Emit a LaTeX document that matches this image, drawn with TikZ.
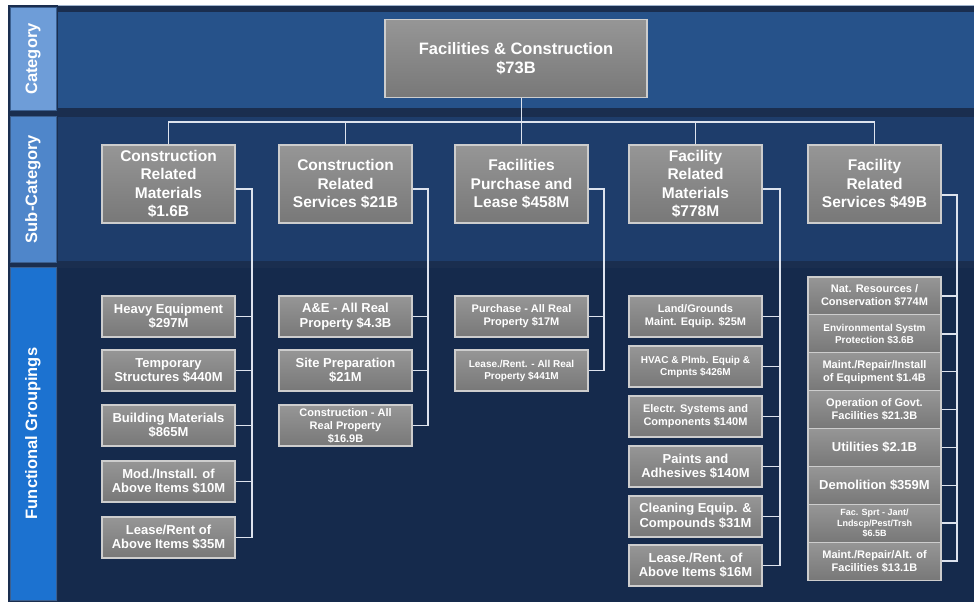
\documentclass[tikz,border=0pt]{standalone}
\usepackage{fontspec}
\setmainfont{Liberation Sans}
\definecolor{catband}{HTML}{26528A}
\definecolor{subband}{HTML}{1E3D6B}
\definecolor{fnband}{HTML}{152A4C}
\definecolor{sepdark}{HTML}{1A2E4F}
\definecolor{topline}{HTML}{9FB3CC}
\definecolor{labone}{HTML}{6E9DD8}
\definecolor{labtwo}{HTML}{4F86CA}
\definecolor{labthree}{HTML}{1C72D0}
\definecolor{labedge}{HTML}{3B5F8F}
\definecolor{boxtop}{HTML}{969696}
\definecolor{boxbot}{HTML}{787878}
\definecolor{boxedge}{HTML}{CDCDCD}
\definecolor{linec}{HTML}{DDE3EE}
\begin{document}
\begin{tikzpicture}[x=1pt,y=-1pt,
  gbox/.style={rectangle, draw=boxedge, line width=1.2pt, top color=boxtop, bottom color=boxbot,
    text=white, align=center, inner sep=0pt},
  subbox/.style={gbox, minimum width=133pt, minimum height=78pt, font=\bfseries\fontsize{15.5}{18.5}\selectfont},
  fnbox/.style={gbox, minimum width=133pt, minimum height=41pt},
  cbox/.style={gbox, minimum width=133pt, minimum height=38pt},
  fA/.style={font=\bfseries\fontsize{13}{14.5}\selectfont},
  fB/.style={font=\bfseries\fontsize{11}{13}\selectfont},
  fC/.style={font=\bfseries\fontsize{10}{12}\selectfont},
  fD/.style={font=\bfseries\fontsize{9}{10.5}\selectfont},
  lab/.style={rectangle, draw=labedge, line width=1pt, text=white, rotate=90,
    font=\bfseries\fontsize{16.5}{18}\selectfont, minimum height=46pt},
  conn/.style={draw=linec, line width=1.5pt}]
\useasboundingbox (0,0) rectangle (974,602);
\fill[white] (0,0) rectangle (974,602);
% bands
\fill[sepdark] (8,5) rectangle (974,602);
\fill[catband] (58,12) rectangle (974,108);
\draw[topline, line width=1pt] (58,5.5) -- (974,5.5);
\fill[subband] (58,117) rectangle (974,261);
\fill[fnband] (58,268) rectangle (974,602);
% labels
\node[lab, fill=labone, minimum width=102pt] (lcat) at (33,59) {Category};
\node[lab, fill=labtwo, minimum width=146pt] (lsub) at (33,189) {Sub-Category};
\node[lab, fill=labthree, minimum width=333pt] (lfn) at (33,433.5) {Functional Groupings};
% top
\node[gbox, minimum width=262pt, minimum height=78pt, font=\bfseries\fontsize{16.5}{19.5}\selectfont] (top) at (516,58.5) {Facilities \& Construction\\\$73B};
% sub-categories
\node[subbox] (s1) at (168.5,184) {Construction\\Related\\Materials\\\$1.6B};
\node[subbox] (s2) at (345.5,184) {Construction\\Related\\Services \$21B};
\node[subbox] (s3) at (521.5,184) {Facilities\\Purchase and\\Lease \$458M};
\node[subbox] (s4) at (695.5,184) {Facility\\Related\\Materials\\\$778M};
\node[subbox] (s5) at (874.5,184) {Facility\\Related\\Services \$49B};
% column 1
\node[fnbox, fA] (a1) at (168.5,316.5) {Heavy Equipment\\\$297M};
\node[fnbox, fA] (a2) at (168.5,370.5) {Temporary\\Structures \$440M};
\node[fnbox, fA] (a3) at (168.5,425.5) {Building Materials\\\$865M};
\node[fnbox, fA] (a4) at (168.5,481.5) {Mod./Install. of\\Above Items \$10M};
\node[fnbox, fA] (a5) at (168.5,537.5) {Lease/Rent of\\Above Items \$35M};
% column 2
\node[fnbox, fA] (b1) at (345.5,316.5) {A\&E - All Real\\Property \$4.3B};
\node[fnbox, fA] (b2) at (345.5,370.5) {Site Preparation\\\$21M};
\node[fnbox, fB] (b3) at (345.5,425.5) {Construction - All\\Real Property\\\$16.9B};
% column 3
\node[fnbox, fB] (c1) at (521.5,316.5) {Purchase - All Real\\Property \$17M};
\node[fnbox, fC] (c2) at (521.5,370.5) {Lease./Rent. - All Real\\Property \$441M};
% column 4
\node[fnbox, fB] (d1) at (695.5,316.5) {Land/Grounds\\Maint. Equip. \$25M};
\node[fnbox, fC] (d2) at (695.5,366.5) {HVAC \& Plmb. Equip \&\\Cmpnts \$426M};
\node[fnbox, fB] (d3) at (695.5,416.5) {Electr. Systems and\\Components \$140M};
\node[fnbox, fA] (d4) at (695.5,466.5) {Paints and\\Adhesives \$140M};
\node[fnbox, fA] (d5) at (695.5,516.5) {Cleaning Equip. \&\\Compounds \$31M};
\node[fnbox, fA] (d6) at (695.5,565.5) {Lease./Rent. of\\Above Items \$16M};
% column 5
\node[cbox, fB] (e1) at (874.5,295.9) {Nat. Resources /\\Conservation \$774M};
\node[cbox, fC] (e2) at (874.5,333.8) {Environmental Systm\\Protection \$3.6B};
\node[cbox, fB] (e3) at (874.5,371.7) {Maint./Repair/Install\\of Equipment \$1.4B};
\node[cbox, fB] (e4) at (874.5,409.6) {Operation of Govt.\\Facilities \$21.3B};
\node[cbox, fA] (e5) at (874.5,447.4) {Utilities \$2.1B};
\node[cbox, fA] (e6) at (874.5,485.3) {Demolition \$359M};
\node[cbox, fD] (e7) at (874.5,523.2) {Fac. Sprt - Jant/\\Lndscp/Pest/Trsh\\\$6.5B};
\node[cbox, fB] (e8) at (874.5,561.1) {Maint./Repair/Alt. of\\Facilities \$13.1B};
% connectors top level
\coordinate (bus) at (521.5,122);
\draw[conn] (top.south -| bus) -- (bus);
\draw[conn] (s1.north) -- (s1.north |- bus) -- (s5.north |- bus) -- (s5.north);
\draw[conn] (s2.north) -- (s2.north |- bus);
\draw[conn] (s3.north) -- (s3.north |- bus);
\draw[conn] (s4.north) -- (s4.north |- bus);
% spines
\coordinate (p1) at (252,189);
\coordinate (p2) at (428,189);
\coordinate (p3) at (604,189);
\coordinate (p4) at (780,189);
\coordinate (p5) at (957,195);
\draw[conn] (s1.east |- p1) -- (p1) -- (p1 |- a5.east) -- (a5.east);
\foreach \n in {a1,a2,a3,a4} \draw[conn] (\n.east) -- (\n.east -| p1);
\draw[conn] (s2.east |- p2) -- (p2) -- (p2 |- b3.east) -- (b3.east);
\foreach \n in {b1,b2} \draw[conn] (\n.east) -- (\n.east -| p2);
\draw[conn] (s3.east |- p3) -- (p3) -- (p3 |- c2.east) -- (c2.east);
\draw[conn] (c1.east) -- (c1.east -| p3);
\draw[conn] (s4.east |- p4) -- (p4) -- (p4 |- d6.east) -- (d6.east);
\foreach \n in {d1,d2,d3,d4,d5} \draw[conn] (\n.east) -- (\n.east -| p4);
\draw[conn] (s5.east |- p5) -- (p5) -- (p5 |- e8.east) -- (e8.east);
\foreach \n in {e1,e2,e3,e4,e5,e6,e7} \draw[conn] (\n.east) -- (\n.east -| p5);
\end{tikzpicture}
\end{document}
